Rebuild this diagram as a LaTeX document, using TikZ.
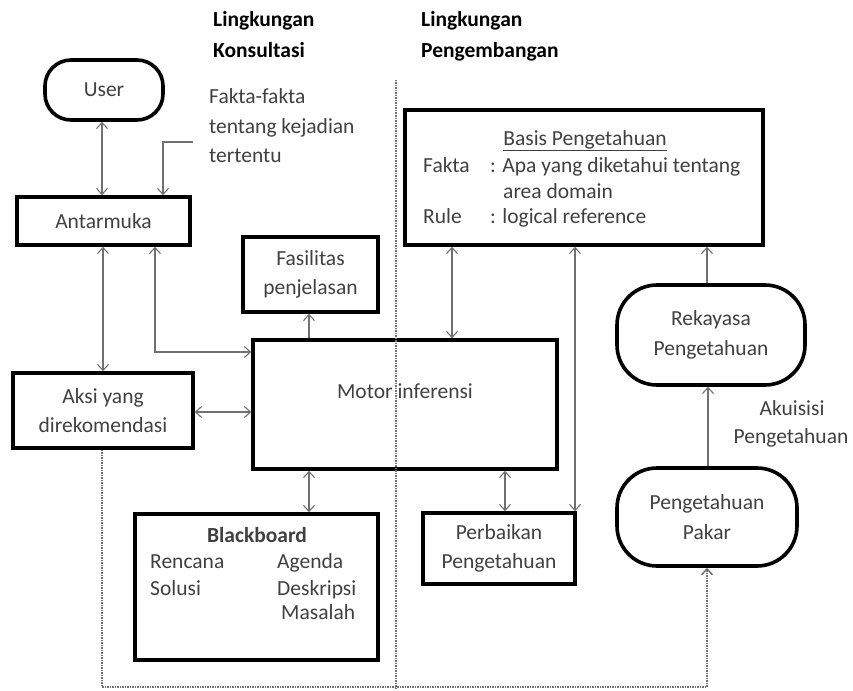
\documentclass[tikz,border=0pt]{standalone}
\usepackage{fontspec}
\setmainfont{Carlito}
\usetikzlibrary{arrows.meta,calc}
\definecolor{txtc}{HTML}{404040}
\definecolor{arrc}{HTML}{707070}
\begin{document}
\begin{tikzpicture}[x=1pt,y=-1pt,
  >={Straight Barb[length=6pt,width=11pt]},
  every node/.style={font=\fontsize{21.5}{29.5}\selectfont, text=txtc},
  box/.style={draw=black, line width=3.6pt, inner sep=2pt, align=center, text=txtc},
  arr/.style={draw=arrc, line width=1.1pt},
  dots/.style={draw=arrc, line width=1.5pt, densely dotted},
  lbl/.style={inner sep=0pt, text height=13pt, text depth=3pt, text=txtc},
  head/.style={lbl, font=\fontsize{21.5}{29.5}\selectfont\bfseries, text=black}]
\useasboundingbox (0,0) rectangle (853,690);

% headings
\node[head, anchor=west] (h1) at (213,22) {Lingkungan};
\node[head, anchor=west] (h2) at (213,53) {Konsultasi};
\node[head, anchor=west] (h3) at (421,22) {Lingkungan};
\node[head, anchor=west] (h4) at (421,53) {Pengembangan};

% boxes
\node[box, minimum width=118pt, minimum height=60pt, rounded corners=26pt] (user) at (104,90) {User};
\node[box, minimum width=173pt, minimum height=48pt] (ant) at (103.5,221) {Antarmuka};
\node[box, minimum width=135pt, minimum height=75pt] (fas) at (310.5,274.5) {Fasilitas\\penjelasan};
\node[box, minimum width=304pt, minimum height=129pt] (motor) at (405,404.5) {};
\node[lbl] (motortxt) at (405,393) {Motor inferensi};
\node[box, minimum width=180pt, minimum height=75pt] (aksi) at (103,410.5) {Aksi yang\\direkomendasi};
\node[box, minimum width=358pt, minimum height=135pt] (basis) at (584,177.5) {};
\node[box, minimum width=188pt, minimum height=100pt, rounded corners=40pt] (rek) at (711,335) {Rekayasa\\Pengetahuan};
\node[box, minimum width=180pt, minimum height=98pt, rounded corners=40pt] (pakar) at (707,517) {Pengetahuan\\Pakar};
\node[box, minimum width=152pt, minimum height=71pt] (perb) at (499,548.5) {Perbaikan\\Pengetahuan};
\node[box, minimum width=243pt, minimum height=146pt] (bb) at (256.5,587) {};

% facts text
\node[lbl, anchor=west] (ft1) at (209,98) {Fakta-fakta};
\node[lbl, anchor=west] (ft2) at (209,128) {tentang kejadian};
\node[lbl, anchor=west] (ft3) at (209,157) {tertentu};

% basis text
\node[lbl] (bt) at (585,140) {\underline{Basis Pengetahuan}};
\node[lbl, anchor=west] (f1) at (423,167) {Fakta};
\node[lbl, anchor=west] (f2) at (490,167) {: Apa yang diketahui tentang};
\node[lbl, anchor=west] (f3) at (503,193) {area domain};
\node[lbl, anchor=west] (r1) at (423,218) {Rule};
\node[lbl, anchor=west] (r2) at (490,218) {: logical reference};

% blackboard text
\node[lbl, font=\fontsize{21.5}{29.5}\selectfont\bfseries] (bbt) at (257,537) {Blackboard};
\node[lbl, anchor=west] (b1) at (150,563) {Rencana};
\node[lbl, anchor=west] (b2) at (277,563) {Agenda};
\node[lbl, anchor=west] (b3) at (150,590) {Solusi};
\node[lbl, anchor=west] (b4) at (277,590) {Deskripsi};
\node[lbl, anchor=west] (b5) at (281,614) {Masalah};

% akuisisi label
\node[lbl] (ak1) at (792,410) {Akuisisi};
\node[lbl] (ak2) at (791,438) {Pengetahuan};

% helper coordinates
\coordinate (x102) at (102,0);
\coordinate (x103) at (103,0);
\coordinate (x155) at (155,0);
\coordinate (x163) at (163,0);
\coordinate (x309) at (309,0);
\coordinate (x452) at (452,0);
\coordinate (x505) at (505,0);
\coordinate (x575) at (575,0);
\coordinate (x707) at (707,0);
\coordinate (x708) at (708,0);
\coordinate (y352) at (0,352);
\coordinate (y412) at (0,412);
\coordinate (y687) at (0,687);
\coordinate (fk) at (193,142);
\coordinate (dvt) at (396,80);
\coordinate (dvb) at (396,688);

% connectors
\draw[arr,<->] (user.south -| x102) -- (ant.north -| x102);
\draw[arr,->] (fk) -| (ant.north -| x163);
\draw[arr,<->] (ant.south -| x103) -- (aksi.north -| x103);
\draw[arr,<->] (ant.south -| x155) |- (motor.west |- y352);
\draw[arr,<->] (aksi.east |- y412) -- (motor.west |- y412);
\draw[arr,->] (motor.north -| x309) -- (fas.south -| x309);
\draw[arr,<->] (motor.south -| x309) -- (bb.north -| x309);
\draw[arr,<->] (basis.south -| x452) -- (motor.north -| x452);
\draw[arr,<->] (basis.south -| x575) -- (perb.north -| x575);
\draw[arr,<->] (motor.south -| x505) -- (perb.north -| x505);
\draw[arr,->] (rek.north -| x707) -- (basis.south -| x707);
\draw[arr,->] (pakar.north -| x708) -- (rek.south -| x708);
\draw[dots,->] (aksi.south -| x102) -- (x102 |- y687) -| (pakar.south -| x707);
\draw[dots] (dvt) -- (dvb);
\end{tikzpicture}
\end{document}
